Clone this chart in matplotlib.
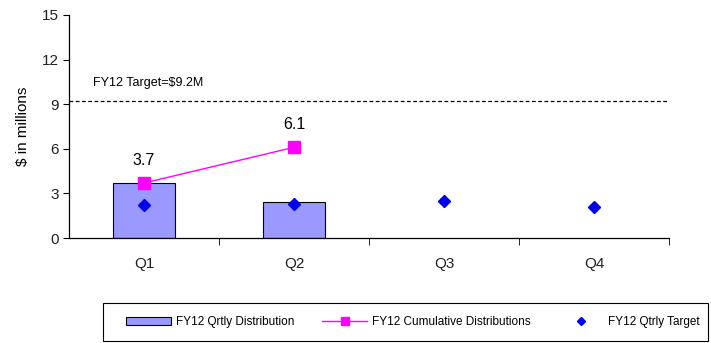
import matplotlib
matplotlib.use('Agg')
import matplotlib.pyplot as plt
from matplotlib.lines import Line2D
from matplotlib.patches import Patch, Rectangle

# ---- data ----
quarters = ['Q1', 'Q2', 'Q3', 'Q4']
qtrly_dist = [3.7, 2.4]          # only Q1, Q2 reported
cumulative = [3.7, 6.1]
qtrly_target = [2.2, 2.3, 2.5, 2.1]
fy_target = 9.2

plt.rcParams['font.family'] = ['Liberation Sans', 'DejaVu Sans']

fig = plt.figure(figsize=(7.11, 3.43), dpi=100)
ax = fig.add_axes([69 / 711, 1 - 238 / 343, 600 / 711, 223 / 343])

x = list(range(len(quarters)))

# bars
ax.bar(x[:len(qtrly_dist)], qtrly_dist, width=0.41, color='#9999FF',
       edgecolor='black', linewidth=0.8, zorder=2)

# cumulative line
ax.plot(x[:len(cumulative)], cumulative, color='#FF00FF', linewidth=1.0,
        marker='s', markersize=8, zorder=4)
for xi, v in zip(x, cumulative):
    ax.annotate(f'{v:.1f}', (xi, v), xytext=(0, 11), textcoords='offset points',
                ha='center', va='bottom', fontsize=11.5)

# quarterly target diamonds
ax.plot(x, qtrly_target, linestyle='none', marker='D', markersize=6,
        color='#0000EE', zorder=5)

# full-year target
ax.axhline(fy_target, color='black', linestyle=(0, (3, 2)), linewidth=0.9, zorder=1)
ax.text(-0.34, 10.4, f'FY12 Target=${fy_target}M', fontsize=9, va='center', ha='left')

# axes styling
ax.set_xlim(-0.5, 3.5)
ax.set_ylim(0, 15)
ax.set_yticks([0, 3, 6, 9, 12, 15])
ax.set_xticks(x)
ax.set_xticklabels(quarters)
ax.set_xticks([0.5, 1.5, 2.5, 3.5], minor=True)
ax.tick_params(axis='x', which='major', length=0, pad=14, labelsize=11, colors='#222222')
ax.tick_params(axis='x', which='minor', length=5, direction='out', color='black')
ax.tick_params(axis='y', length=4, direction='out', labelsize=11, colors='#222222')
ax.tick_params(axis='both', color='black')
for s in ['top', 'right']:
    ax.spines[s].set_visible(False)
ax.spines['left'].set_linewidth(0.9)
ax.spines['bottom'].set_linewidth(0.9)
ax.set_ylabel('$ in millions', fontsize=11, labelpad=8)

# legend: frame drawn separately so the items can sit inset like the original
fig.patches.append(Rectangle((103 / 711, 2 / 343), 605 / 711, 38 / 343,
                             transform=fig.transFigure, fill=False,
                             edgecolor='black', linewidth=0.8))
handles = [
    Patch(facecolor='#9999FF', edgecolor='black', linewidth=0.8, label='FY12 Qrtly Distribution'),
    Line2D([0], [0], color='#FF00FF', marker='s', markersize=6, linewidth=1.0,
           label='FY12 Cumulative Distributions'),
    Line2D([0], [0], color='#0000EE', marker='D', markersize=4, linestyle='none',
           label='FY12 Qtrly Target'),
]
leg = fig.legend(handles=handles, loc='center left', ncol=3, mode='expand',
                 bbox_to_anchor=(126 / 711, 2 / 343, 574 / 711, 38 / 343),
                 fontsize=8.5, frameon=False, borderaxespad=0,
                 handlelength=3.8, handleheight=0.7, borderpad=0.0,
                 handletextpad=0.4, columnspacing=2)

fig.savefig('out.png', dpi=100)
